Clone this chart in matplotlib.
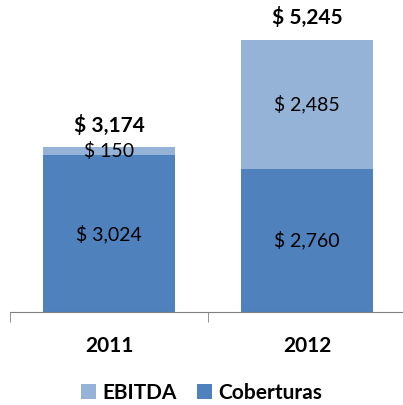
import matplotlib.pyplot as plt

years = ['2011', '2012']
coberturas = [3024, 2760]
ebitda = [150, 2485]
totals = [3174, 5245]
# labels as shown in the chart
cob_labels = ['$ 3,024', '$ 2,760']
ebitda_labels = ['$ 150', '$ 2,485']
total_labels = ['$ 3,174', '$ 5,245']

plt.rcParams['font.family'] = ['Lato', 'DejaVu Sans']

fig = plt.figure(figsize=(4.03, 4.05), dpi=100)
ax = fig.add_axes([10/403, 93/405, 396/403, 312/405])

x = range(len(years))
c_cob = '#4F81BD'
c_ebi = '#95B3D7'
b1 = ax.bar(x, coberturas, width=0.667, color=c_cob, label='Coberturas')
b2 = ax.bar(x, ebitda, width=0.667, bottom=coberturas, color=c_ebi, label='EBITDA')

for i in x:
    ax.text(i, coberturas[i] / 2, cob_labels[i], ha='center', va='center', fontsize=14)
    ax.text(i, coberturas[i] + ebitda[i] / 2, ebitda_labels[i], ha='center', va='center', fontsize=14)
    ax.annotate(total_labels[i], (i, totals[i]), xytext=(0, 16), textcoords='offset points',
                ha='center', va='center', fontsize=15, fontweight='bold')

ax.set_xlim(-0.5, 1.5)
ax.set_ylim(0, 6016)
for s in ['top', 'right', 'left']:
    ax.spines[s].set_visible(False)
ax.spines['bottom'].set_color('#808080')
ax.set_yticks([])
ax.set_xticks(list(x))
ax.set_xticklabels(years, fontsize=15, fontweight='bold')
ax.set_xticks([-0.5, 0.5, 1.5], minor=True)
ax.tick_params(axis='x', which='major', length=0, pad=17)
ax.tick_params(axis='x', which='minor', length=7, color='#808080', direction='out')

fig.legend([b2, b1], ['EBITDA', 'Coberturas'], loc='center', bbox_to_anchor=(0.5, 12/405),
           ncol=2, frameon=False, handlelength=0.7, handleheight=0.7, handletextpad=0.3,
           columnspacing=1.0, prop={'size': 15, 'weight': 'bold'})

fig.savefig('out.png', dpi=100)
